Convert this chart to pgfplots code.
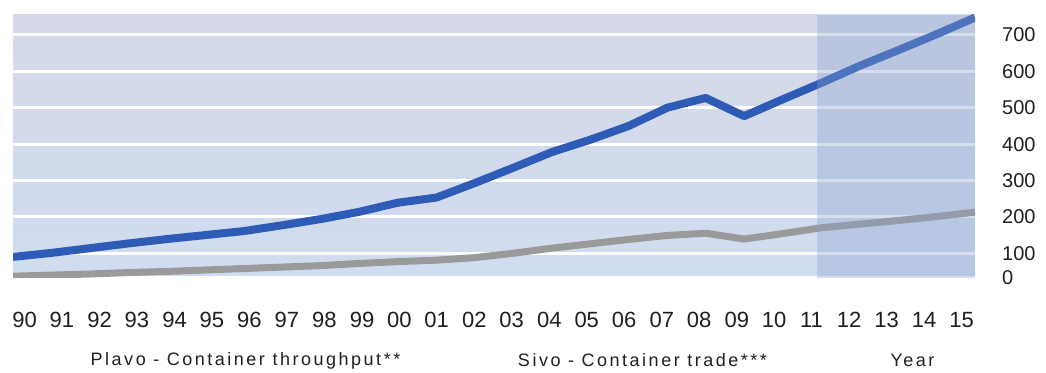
\documentclass[border=0pt]{standalone}
\usepackage{fontspec}
\setmainfont{Liberation Sans}
\newfontfamily\spaced[LetterSpace=14]{Liberation Sans}
\usepackage{pgfplots}
\pgfplotsset{compat=1.18}
\definecolor{bgtop}{HTML}{D5D9E8}
\definecolor{bgbot}{HTML}{D0DCEF}
\definecolor{fc}{HTML}{8AA2D0}
\definecolor{blueline}{HTML}{2E5BB5}
\definecolor{grayline}{HTML}{9A9A9A}
\begin{document}
\begin{tikzpicture}
\begin{axis}[
  at={(0,0)}, anchor=south west,
  scale only axis, width=962pt, height=263pt,
  xmin=1990, xmax=2015, ymin=32, ymax=755,
  axis line style={draw=none},
  axis background/.style={shade, top color=bgtop, bottom color=bgbot},
  major tick length=0pt,
  xtick={1990.30,1991.27,1992.25,1993.22,1994.20,1995.17,1996.14,1997.12,1998.09,1999.07,2000.04,2001.01,2001.99,2002.96,2003.94,2004.91,2005.88,2006.86,2007.83,2008.81,2009.78,2010.75,2011.73,2012.70,2013.68,2014.65},
  xticklabels={90,91,92,93,94,95,96,97,98,99,00,01,02,03,04,05,06,07,08,09,10,11,12,13,14,15},
  xticklabel style={font=\fontsize{22}{22}\selectfont, anchor=center, inner sep=0pt, yshift=-42pt, text=black!88},
  ytick={32,100,200,300,400,500,600,700},
  yticklabels={0,100,200,300,400,500,600,700},
  yticklabel pos=right,
  yticklabel style={font=\fontsize{20}{20}\selectfont, anchor=west, inner sep=0pt, xshift=27pt, text=black!88},
  ymajorgrids, grid style={white, line width=3pt},
  xmajorgrids=false,
]
\addplot[grayline, line width=7pt, line join=round] coordinates {
(1990,37)(1991,40)(1992,43)(1993,47)(1994,50)(1995,54)(1996,58)(1997,62)(1998,66)(1999,72)(2000,77)(2001,81)(2002,88)(2003,100)(2004,114)(2005,126)(2006,138)(2007,149)(2008,155)(2009,139)(2010,154)(2011,170)(2012,180)(2013,190)(2014,201)(2015,213)};
\addplot[blueline, line width=8pt, line join=round] coordinates {
(1990,90)(1991,101)(1992,114)(1993,127)(1994,139)(1995,150)(1996,161)(1997,177)(1998,194)(1999,214)(2000,239)(2001,253)(2002,293)(2003,335)(2004,378)(2005,412)(2006,450)(2007,500)(2008,527)(2009,477)(2010,523)(2011,568)(2012,615)(2013,658)(2014,702)(2015,748)};
\fill[fc, opacity=0.35] (axis cs:2010.9,32) rectangle (axis cs:2015,755);
\end{axis}
\node[font=\spaced\fontsize{18}{18}\selectfont, text=black!88] at (232.5pt,-82.5pt) {Plavo - Container throughput**};
\node[font=\spaced\fontsize{18}{18}\selectfont, text=black!88] at (629.5pt,-82.5pt) {Sivo - Container trade***};
\node[font=\spaced\fontsize{18}{18}\selectfont, text=black!88] at (899.5pt,-82.5pt) {Year};
\path[draw=none] (-13pt,-94pt) rectangle (1033pt,278pt);
\end{tikzpicture}
\end{document}
